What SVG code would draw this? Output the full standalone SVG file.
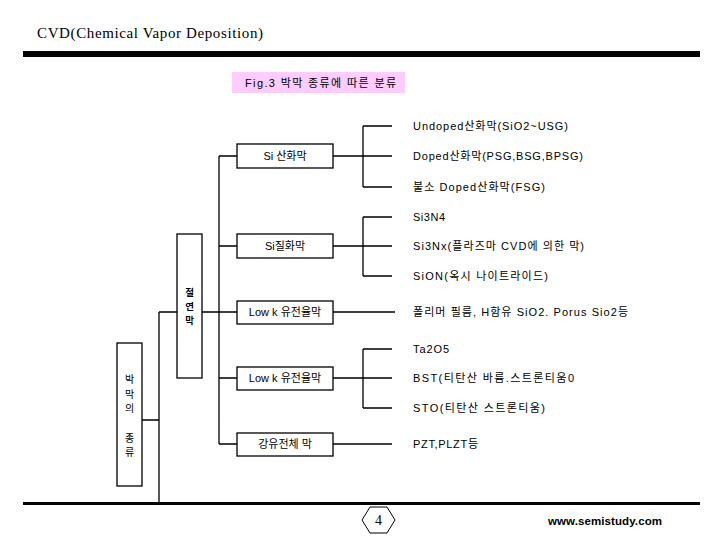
<svg xmlns="http://www.w3.org/2000/svg" width="720" height="540" viewBox="0 0 720 540">
<style>
.bx{fill:#fff;stroke:#000;stroke-width:1.3}
.ln{fill:none;stroke:#000;stroke-width:1.3}
.t{font-family:"Liberation Sans","Noto Sans CJK KR",sans-serif;font-size:11px;fill:#000;dominant-baseline:central}
.c{text-anchor:middle}
.v{font-family:"Noto Sans CJK KR",sans-serif;font-size:10px;fill:#000;text-anchor:middle;dominant-baseline:central}
.vb{font-weight:bold;font-size:9.5px}
</style>
<rect width="720" height="540" fill="#fff"/>
<g id="header">
<text x="37" y="38" font-family="Liberation Serif,serif" font-size="15" textLength="226" lengthAdjust="spacing">CVD(Chemical Vapor Deposition)</text>
<rect x="23" y="51" width="677" height="6" fill="#000"/>
<rect x="232" y="72" width="173" height="21" fill="#ffccff"/>
<text class="t" x="245" y="83" textLength="151" lengthAdjust="spacing">Fig.3   박막 종류에 따른 분류</text>
</g>
<g id="connectors">
<path class="ln" d="M142 420H159M159 312V502M159 312H177M202 312H237M219 156V444M219 156H237M219 246H237M219 378H237M219 444H237"/>
<path class="ln" d="M333 156H392M363 126V187M363 126H392M363 187H392"/>
<path class="ln" d="M333 246H392M363 217V276M363 217H392M363 276H392"/>
<path class="ln" d="M333 312H395"/>
<path class="ln" d="M333 378H392M363 349V408M363 349H392M363 408H392"/>
<path class="ln" d="M333 444H392"/>
</g>
<g id="n-root"><rect class="bx" x="117" y="343" width="25" height="143"/>
<text class="v" x="129.5" y="378">박</text><text class="v" x="129.5" y="393">막</text><text class="v" x="129.5" y="407">의</text><text class="v" x="129.5" y="437">종</text><text class="v" x="129.5" y="451">류</text></g>
<g id="n-insul"><rect class="bx" x="177" y="234" width="25" height="144"/>
<text class="v vb" x="189.5" y="292">절</text><text class="v vb" x="189.5" y="306">연</text><text class="v vb" x="189.5" y="320">막</text></g>
<g id="n-sio"><rect class="bx" x="237" y="144" width="96" height="24"/><text class="t c" x="285" y="156">Si 산화막</text></g>
<g id="n-sin"><rect class="bx" x="237" y="234" width="96" height="24"/><text class="t c" x="285" y="246">Si질화막</text></g>
<g id="n-lowk1"><rect class="bx" x="237" y="301" width="96" height="23"/><text class="t c" x="285" y="312">Low k 유전율막</text></g>
<g id="n-lowk2"><rect class="bx" x="237" y="367" width="96" height="23"/><text class="t c" x="285" y="378">Low k 유전율막</text></g>
<g id="n-ferro"><rect class="bx" x="237" y="433" width="96" height="23"/><text class="t c" x="285" y="444">강유전체 막</text></g>
<g id="leaves">
<text class="t" x="413" y="126" textLength="155" lengthAdjust="spacing">Undoped산화막(SiO2~USG)</text>
<text class="t" x="413" y="156" textLength="170" lengthAdjust="spacing">Doped산화막(PSG,BSG,BPSG)</text>
<text class="t" x="413" y="187" textLength="132" lengthAdjust="spacing">불소 Doped산화막(FSG)</text>
<text class="t" x="413" y="217" textLength="32" lengthAdjust="spacing">Si3N4</text>
<text class="t" x="413" y="246" textLength="171" lengthAdjust="spacing">Si3Nx(플라즈마 CVD에 의한 막)</text>
<text class="t" x="413" y="276" textLength="135" lengthAdjust="spacing">SiON(옥시 나이트라이드)</text>
<text class="t" x="413" y="312" textLength="215" lengthAdjust="spacing">폴리머 필름, H함유 SiO2. Porus Sio2등</text>
<text class="t" x="413" y="349" textLength="36" lengthAdjust="spacing">Ta2O5</text>
<text class="t" x="413" y="378" textLength="161" lengthAdjust="spacing">BST(티탄산 바륨.스트론티움0</text>
<text class="t" x="413" y="408" textLength="132" lengthAdjust="spacing">STO(티탄산 스트론티움)</text>
<text class="t" x="413" y="444" textLength="65" lengthAdjust="spacing">PZT,PLZT등</text>
</g>
<g id="footer">
<rect x="23" y="502" width="677" height="3" fill="#000"/>
<polygon points="362,520 370,507 387,507 395,520 387,533 370,533" fill="#fff" stroke="#000" stroke-width="1"/>
<text x="378.5" y="520" font-family="Liberation Serif,serif" font-size="14" text-anchor="middle" dominant-baseline="central">4</text>
<text x="548" y="521" font-family="Liberation Sans,sans-serif" font-size="11.5" font-weight="bold" textLength="114" lengthAdjust="spacing" dominant-baseline="central">www.semistudy.com</text>
</g>
</svg>
